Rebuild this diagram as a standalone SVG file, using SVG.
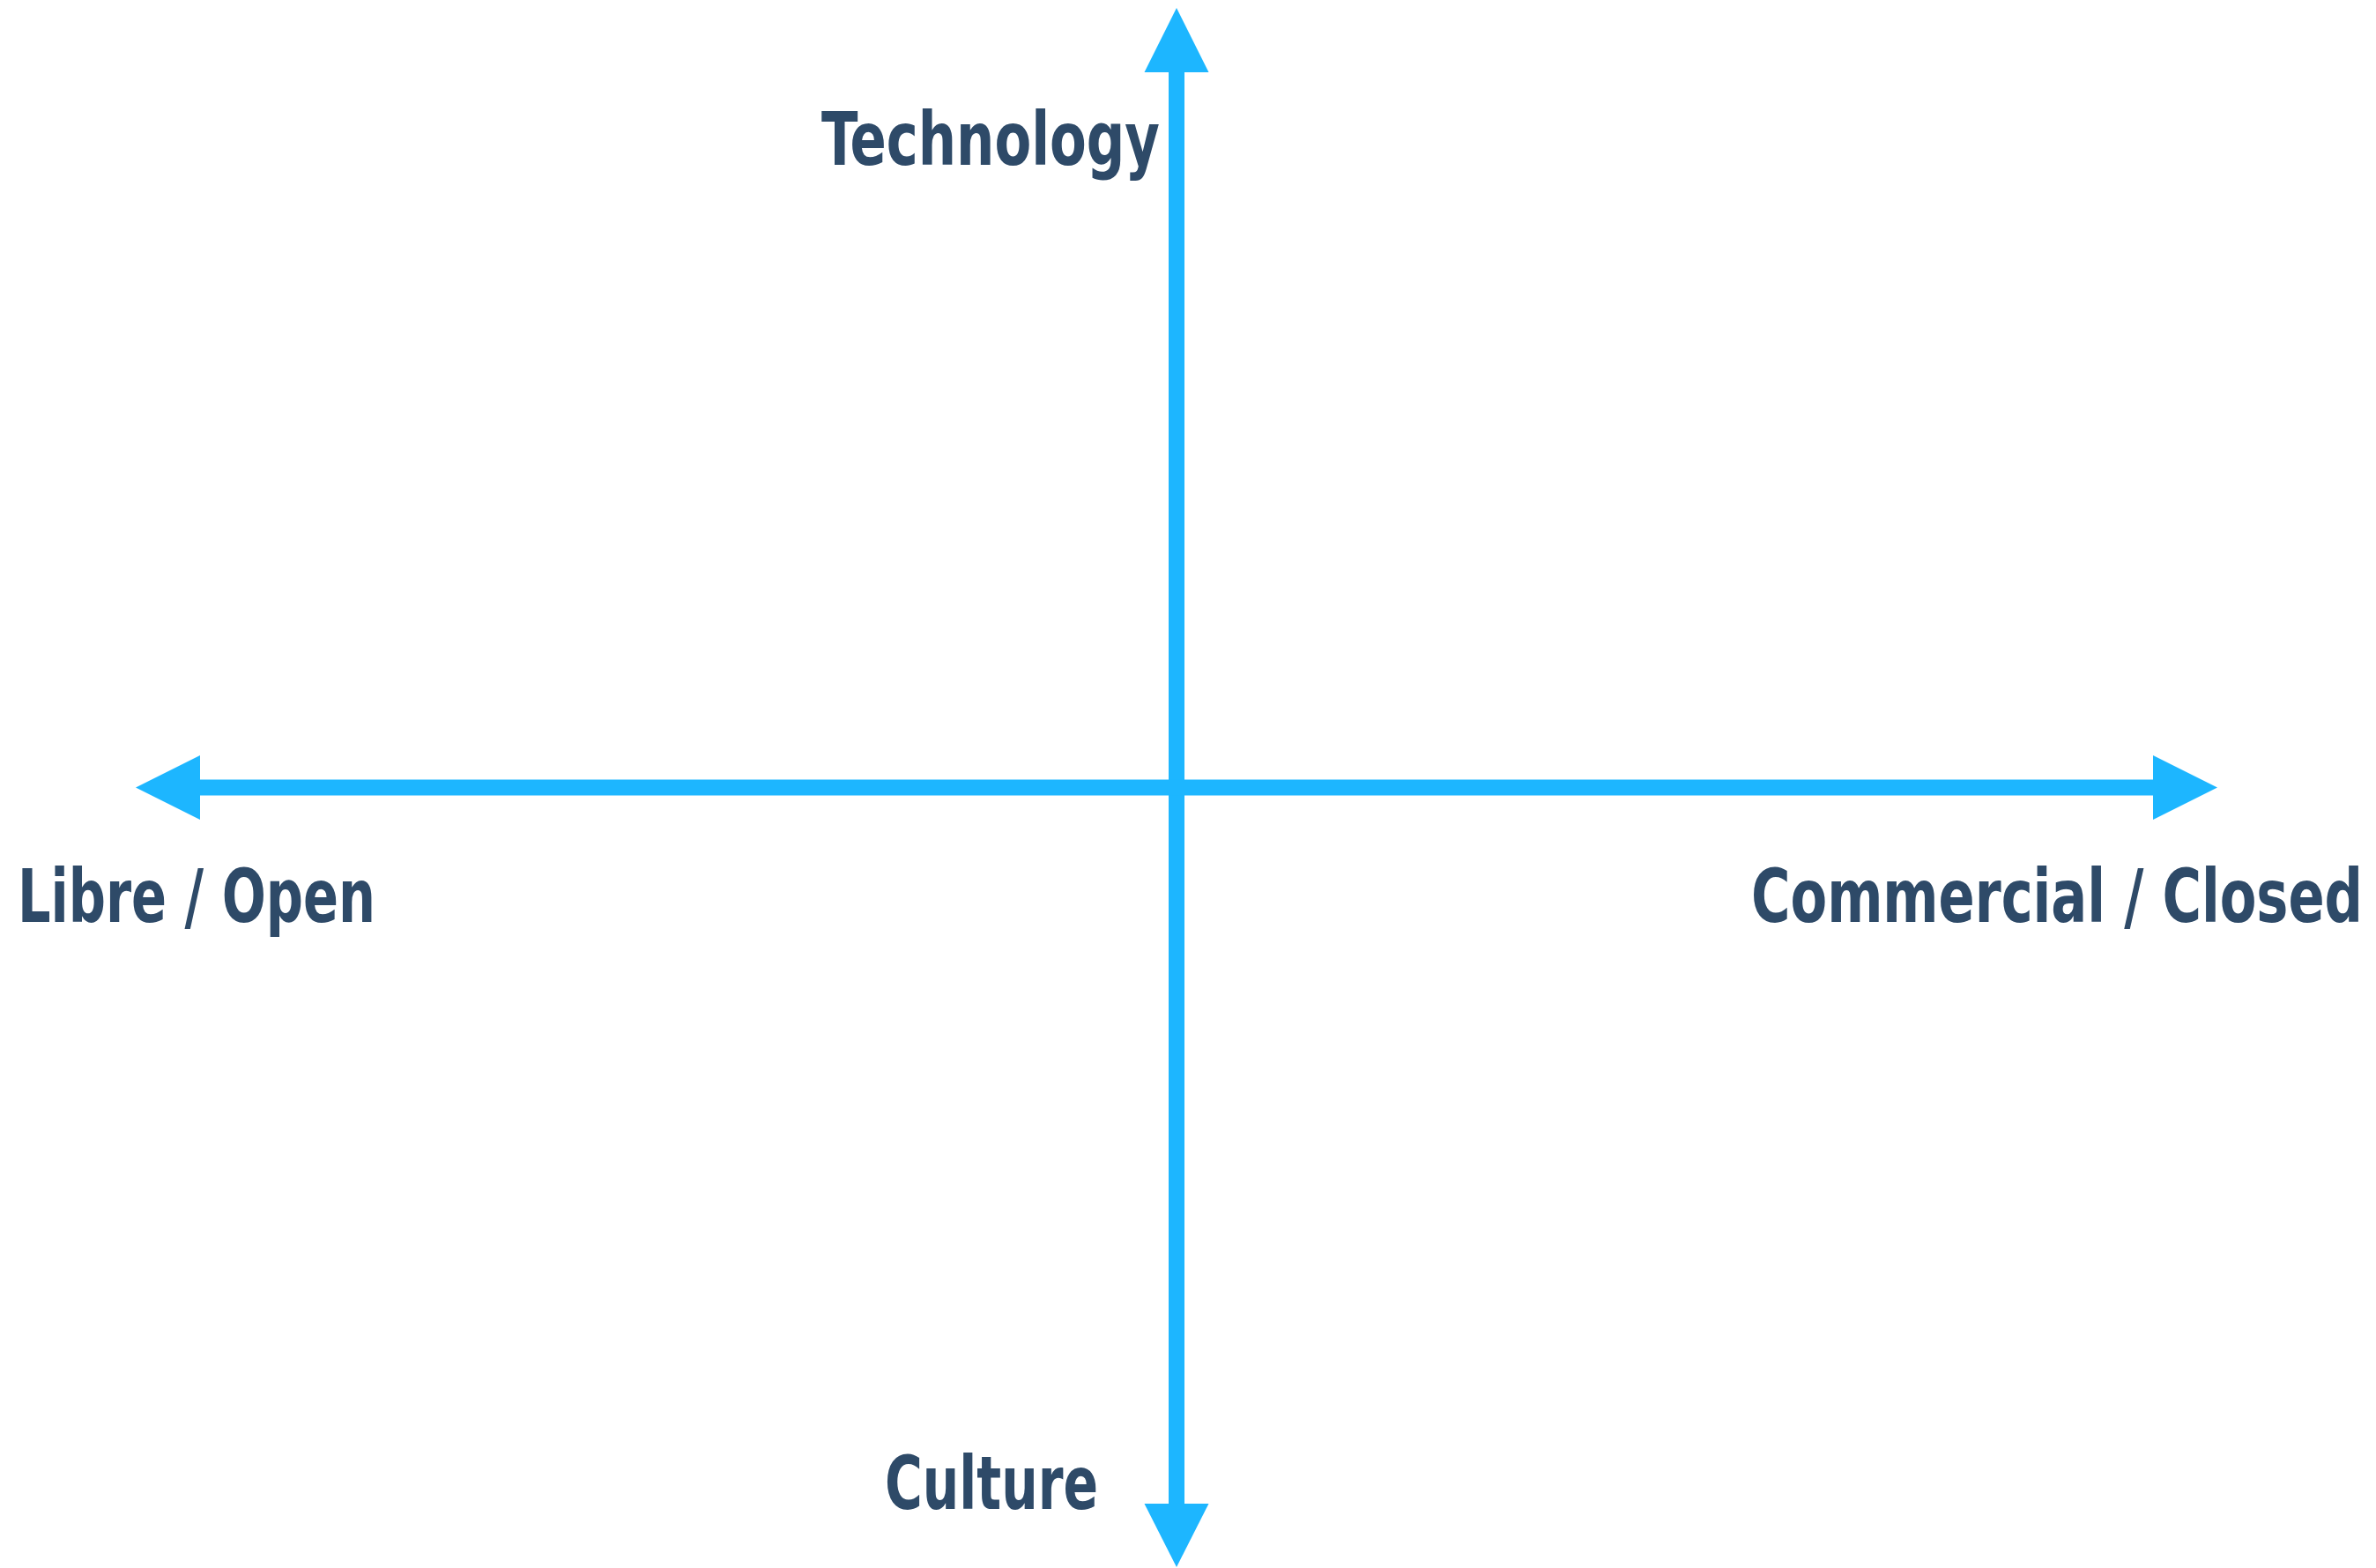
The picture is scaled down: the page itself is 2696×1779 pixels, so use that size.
<svg xmlns="http://www.w3.org/2000/svg" width="2696" height="1779" viewBox="0 0 2696 1779">
<style>
.lbl{font-family:"Liberation Sans Narrow","DejaVu Sans Condensed","Liberation Sans",sans-serif;font-weight:bold;font-size:84px;fill:#2e4a68}
.axis{stroke:#1db6ff;stroke-width:18;fill:none}
.head{fill:#1db6ff}
</style>
<rect width="2696" height="1779" fill="#ffffff"/>
<g id="connectors">
<line class="axis" x1="1335" y1="80" x2="1335" y2="1708"/>
<line class="axis" x1="225" y1="893.5" x2="2445" y2="893.5"/>
<polygon class="head" points="1335,9 1371.5,82 1298.5,82"/>
<polygon class="head" points="1335,1778 1371.5,1706 1298.5,1706"/>
<polygon class="head" points="154,893.5 227,857 227,930"/>
<polygon class="head" points="2516,893.5 2443,857 2443,930"/>
</g>
<g id="technology"><text class="lbl" x="932" y="187" textLength="384" lengthAdjust="spacingAndGlyphs">Technology</text></g>
<g id="libre-open"><text class="lbl" x="20" y="1046" textLength="406" lengthAdjust="spacingAndGlyphs">Libre / Open</text></g>
<g id="commercial-closed"><text class="lbl" x="1987" y="1046" textLength="694" lengthAdjust="spacingAndGlyphs">Commercial / Closed</text></g>
<g id="culture"><text class="lbl" x="1004" y="1712" textLength="242" lengthAdjust="spacingAndGlyphs">Culture</text></g>
</svg>
